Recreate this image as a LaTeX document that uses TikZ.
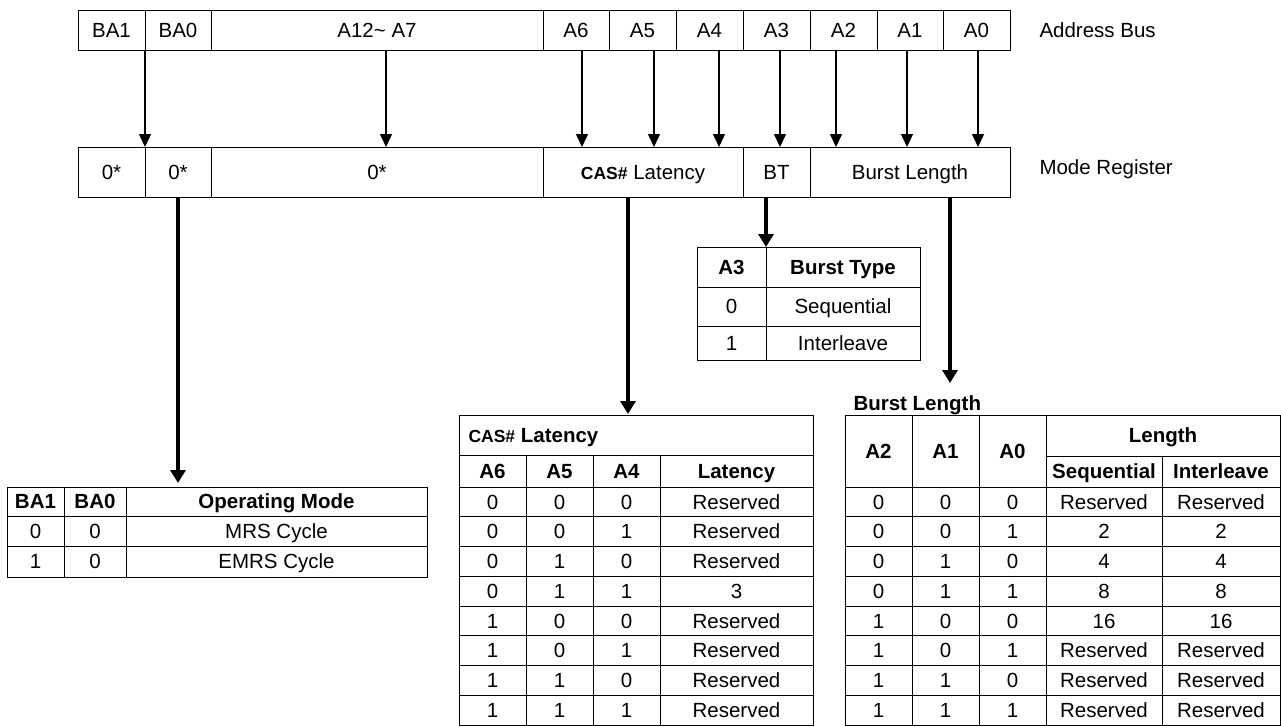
\documentclass[tikz,border=0pt]{standalone}
\usepackage{fontspec}
\setmainfont{Liberation Sans}
\usetikzlibrary{arrows.meta}

\begin{document}
\begin{tikzpicture}[x=1pt, y=-1pt, line width=1pt,
    every node/.style={font=\fontsize{20.5}{24}\selectfont, inner sep=0pt, text height=14.7pt, text depth=0pt},
    hd/.style={font=\fontsize{20.5}{24}\selectfont\bfseries},
    cell/.style={draw, outer sep=0pt},
    bus/.style={-{Triangle[width=12pt,length=13pt]}, line width=1.4pt},
    field/.style={-{Triangle[width=15pt,length=13pt]}, line width=3.5pt}]
    \useasboundingbox (0,0) rectangle (1281,726);

    % address bus
    \foreach \n/\l/\r/\t in {ba1/78/145/BA1, ba0/145/211/BA0, a12/211/543/{A12\textasciitilde\ A7},
        a6/543/609/A6, a5/609/676/A5, a4/676/743/A4, a3/743/810/A3, a2/810/877/A2,
        a1/877/943/A1, a0/943/1010/A0}
        \node[cell, minimum width={\r-\l}, minimum height=40pt] (\n) at ({(\l+\r)/2},30) {\t};
    \node[anchor=west] (abus) at (1039,30) {Address Bus};

    % mode register
    \foreach \n/\l/\r/\t in {mba1/78/145/0*, mba0/145/211/0*, mz/211/543/0*,
        mcas/543/743/{{\fontsize{17.5}{20}\selectfont\bfseries CAS\#}\ Latency},
        mbt/743/810/BT, mbl/810/1010/Burst Length}
        \node[cell, minimum width={\r-\l}, minimum height=50pt] (\n) at ({(\l+\r)/2},172) {\t};
    \node[anchor=west] (mreg) at (1039,167) {Mode Register};

    % bus to register
    \draw[bus] (ba0.south west) -- (mba0.north west);
    \foreach \n/\dx in {a12/9, a6/6, a5/11.5, a4/9.5, a3/3.5, a2/-7.5, a1/-3, a0/1.5}
        \draw[bus] ([xshift=\dx pt]\n.south) -- ([xshift=\dx pt]\n.south |- mcas.north);

    % operating mode table
    \coordinate (om) at (7,487);
    \draw (om) rectangle (427,577);
    \draw (7,516) -- (427,516) (7,546) -- (427,546) (64,487) -- (64,577) (126,487) -- (126,577);
    \node[hd] (om1) at (35.5,501.5) {BA1};
    \node[hd] (om2) at (95,501.5) {BA0};
    \node[hd] (om3) at (276.5,501.5) {Operating Mode};
    \node (om4) at (35.5,531) {0};
    \node (om5) at (95,531) {0};
    \node (om6) at (276.5,531) {MRS Cycle};
    \node (om7) at (35.5,561.5) {1};
    \node (om8) at (95,561.5) {0};
    \node (om9) at (276.5,561.5) {EMRS Cycle};
    \draw[field, shorten >=4pt] (mba0.south) -- (mba0.south |- om);

    % burst type table
    \coordinate (bt) at (766,247);
    \draw (697,247) rectangle (920,360);
    \draw (697,287) -- (920,287) (697,326) -- (920,326) (bt) -- (766,360);
    \node[hd] (bt1) at (731.5,267) {A3};
    \node[hd] (bt2) at (843,267) {Burst Type};
    \node (bt3) at (731.5,306.5) {0};
    \node (bt4) at (843,306.5) {Sequential};
    \node (bt5) at (731.5,343) {1};
    \node (bt6) at (843,343) {Interleave};
    \draw[field] (mbt.south -| bt) -- (bt);

    % cas latency table
    \coordinate (cl) at (628,415);
    \draw (459,415) rectangle (813,725);
    \draw (459,455) -- (813,455) (459,487) -- (813,487);
    \foreach \x in {526,593,660}
        \draw (\x,455) -- (\x,725);
    \foreach \i in {1,...,7}
        \draw (459,{487+\i*29.75}) -- (813,{487+\i*29.75});
    \node[hd, anchor=west] (cltitle) at (468,435) {{\fontsize{17.5}{20}\selectfont CAS\#}\ Latency};
    \node[hd] (clh1) at (492.5,471) {A6};
    \node[hd] (clh2) at (559.5,471) {A5};
    \node[hd] (clh3) at (626.5,471) {A4};
    \node[hd] (clh4) at (736.5,471) {Latency};
    \foreach \a/\b/\c/\v [count=\i] in {0/0/0/Reserved, 0/0/1/Reserved, 0/1/0/Reserved, 0/1/1/3,
        1/0/0/Reserved, 1/0/1/Reserved, 1/1/0/Reserved, 1/1/1/Reserved} {
        \node (cla\i) at (492.5,{487+(\i-0.5)*29.75}) {\a};
        \node (clb\i) at (559.5,{487+(\i-0.5)*29.75}) {\b};
        \node (clc\i) at (626.5,{487+(\i-0.5)*29.75}) {\c};
        \node (clv\i) at (736.5,{487+(\i-0.5)*29.75}) {\v};
    }
    \draw[field, shorten >=1pt] (mcas.south -| cl) -- (cl);

    % burst length table
    \coordinate (bl) at (950,383);
    \draw (845,415) rectangle (1280,725);
    \draw (1046,456) -- (1280,456) (845,487) -- (1280,487) (1162,456) -- (1162,725);
    \foreach \x in {912,979,1046}
        \draw (\x,415) -- (\x,725);
    \foreach \i in {1,...,7}
        \draw (845,{487+\i*29.75}) -- (1280,{487+\i*29.75});
    \node[hd, anchor=west] (bltitle) at (853,403) {Burst Length};
    \node[hd] (blh1) at (878.5,451) {A2};
    \node[hd] (blh2) at (945.5,451) {A1};
    \node[hd] (blh3) at (1012.5,451) {A0};
    \node[hd] (blh4) at (1163,435.5) {Length};
    \node[hd] (blh5) at (1104,471.5) {Sequential};
    \node[hd] (blh6) at (1221,471.5) {Interleave};
    \foreach \a/\b/\c/\s/\t [count=\i] in {0/0/0/Reserved/Reserved, 0/0/1/2/2, 0/1/0/4/4, 0/1/1/8/8,
        1/0/0/16/16, 1/0/1/Reserved/Reserved, 1/1/0/Reserved/Reserved, 1/1/1/Reserved/Reserved} {
        \node (bla\i) at (878.5,{487+(\i-0.5)*29.75}) {\a};
        \node (blb\i) at (945.5,{487+(\i-0.5)*29.75}) {\b};
        \node (blc\i) at (1012.5,{487+(\i-0.5)*29.75}) {\c};
        \node (bls\i) at (1104,{487+(\i-0.5)*29.75}) {\s};
        \node (blt\i) at (1221,{487+(\i-0.5)*29.75}) {\t};
    }
    \draw[field] (mbl.south -| bl) -- (bl);
\end{tikzpicture}
\end{document}
